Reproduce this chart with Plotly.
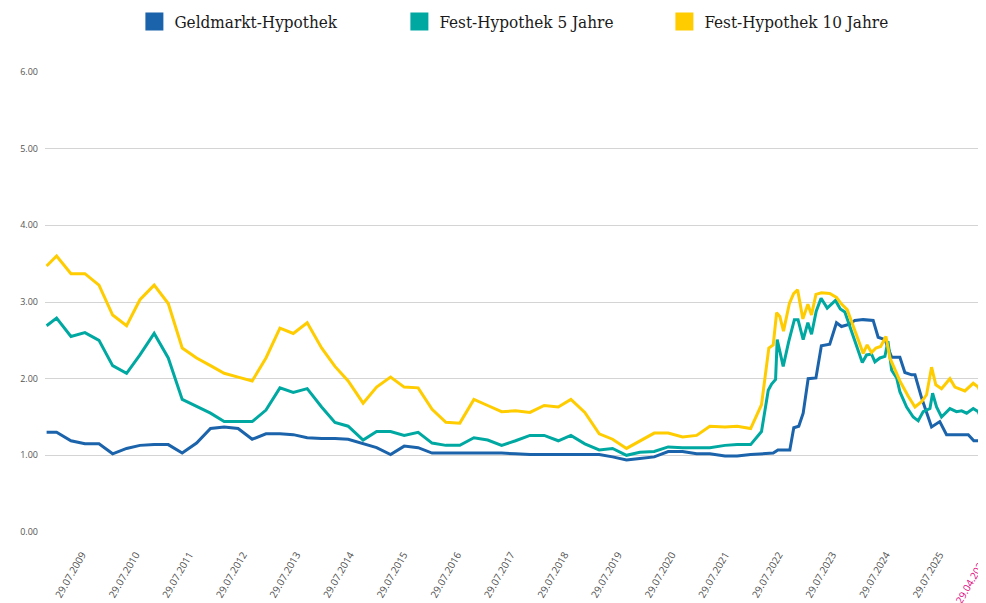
import plotly.graph_objects as go

# ---------------- data ----------------
series_names = ["Geldmarkt-Hypothek", "Fest-Hypothek 5 Jahre", "Fest-Hypothek 10 Jahre"]

dates_hist = [
    "2008-11-29", "2009-02-05", "2009-05-14", "2009-08-17", "2009-11-21",
    "2010-02-22", "2010-05-28", "2010-08-27", "2010-12-02", "2011-03-08",
    "2011-06-11", "2011-09-17", "2011-12-21", "2012-03-23", "2012-06-26",
    "2012-09-30", "2013-01-02", "2013-04-07", "2013-07-07", "2013-10-10",
    "2014-01-16", "2014-04-17", "2014-07-16", "2014-10-26", "2015-01-26",
    "2015-05-01", "2015-08-02", "2015-11-05", "2016-02-08", "2016-05-12",
    "2016-08-15", "2016-11-19", "2017-02-21", "2017-05-27", "2017-08-30",
    "2017-12-06", "2018-03-13", "2018-06-17", "2018-09-11", "2018-12-15",
    "2019-03-23", "2019-06-22", "2019-09-25", "2019-12-25", "2020-04-01",
    "2020-07-05", "2020-10-11", "2021-01-15", "2021-04-15", "2021-07-27",
    "2021-10-18", "2022-01-18",
]

geld_hist = [
    1.30, 1.30, 1.19, 1.15, 1.15, 1.02, 1.09, 1.13, 1.14, 1.14,
    1.03, 1.16, 1.35, 1.37, 1.35, 1.21, 1.28, 1.28, 1.27, 1.23,
    1.22, 1.22, 1.21, 1.15, 1.10, 1.01, 1.12, 1.10, 1.03, 1.03,
    1.03, 1.03, 1.03, 1.03, 1.02, 1.01, 1.01, 1.01, 1.01, 1.01,
    1.01, 0.98, 0.94, 0.96, 0.98, 1.05, 1.05, 1.02, 1.02, 0.99,
    0.99, 1.01,
]
fix5_hist = [
    2.69, 2.79, 2.55, 2.60, 2.50, 2.17, 2.07, 2.31, 2.59, 2.27,
    1.73, 1.64, 1.55, 1.44, 1.44, 1.44, 1.59, 1.88, 1.82, 1.87,
    1.63, 1.43, 1.38, 1.20, 1.31, 1.31, 1.26, 1.30, 1.16, 1.13,
    1.13, 1.23, 1.20, 1.13, 1.19, 1.26, 1.26, 1.19, 1.26, 1.15,
    1.07, 1.09, 1.00, 1.04, 1.05, 1.11, 1.10, 1.10, 1.10, 1.13,
    1.14, 1.14,
]
fix10_hist = [
    3.47, 3.60, 3.37, 3.37, 3.22, 2.83, 2.69, 3.03, 3.22, 2.98,
    2.40, 2.27, 2.17, 2.07, 2.02, 1.97, 2.27, 2.66, 2.59, 2.73,
    2.40, 2.16, 1.97, 1.68, 1.89, 2.02, 1.89, 1.88, 1.60, 1.43,
    1.42, 1.73, 1.65, 1.57, 1.58, 1.56, 1.65, 1.63, 1.73, 1.56,
    1.28, 1.21, 1.09, 1.19, 1.29, 1.29, 1.24, 1.26, 1.38, 1.37,
    1.38, 1.35,
]

geld_dates_recent = [
    "2022-04-02", "2022-06-21", "2022-07-23", "2022-10-12", "2022-11-08",
    "2022-12-12", "2023-01-11", "2023-02-14", "2023-04-08", "2023-05-15",
    "2023-07-11", "2023-08-26", "2023-09-29", "2023-11-24", "2023-12-29",
    "2024-02-24", "2024-05-02", "2024-06-05", "2024-07-21", "2024-09-05",
    "2024-10-31", "2024-12-04", "2025-01-19", "2025-02-11", "2025-03-28",
    "2025-06-04", "2025-07-30", "2025-09-14", "2026-02-09", "2026-03-19",
    "2026-06-09",
]
geld_recent = [
    1.02, 1.03, 1.07, 1.07, 1.36,
    1.38, 1.55, 2.00, 2.01, 2.43,
    2.45, 2.73, 2.68, 2.71, 2.76,
    2.77, 2.76, 2.54, 2.51, 2.28,
    2.28, 2.08, 2.05, 2.05, 1.75,
    1.37, 1.44, 1.27, 1.27, 1.19,
    1.19,
]

fix5_dates_recent = [
    "2022-04-02", "2022-05-18", "2022-06-10", "2022-07-07", "2022-07-18",
    "2022-08-28", "2022-10-04", "2022-11-12", "2022-12-07", "2023-01-11",
    "2023-02-12", "2023-03-09", "2023-04-10", "2023-05-13", "2023-06-24",
    "2023-08-19", "2023-09-21", "2023-10-22", "2023-12-17", "2024-02-18",
    "2024-03-18", "2024-04-21", "2024-05-14", "2024-06-17", "2024-07-21",
    "2024-08-11", "2024-09-05", "2024-10-09", "2024-10-31", "2024-12-16",
    "2025-01-30", "2025-03-05", "2025-04-08", "2025-05-24", "2025-06-11",
    "2025-07-08", "2025-08-11", "2025-10-07", "2025-11-21", "2025-12-26",
    "2026-01-29", "2026-03-15", "2026-04-18", "2026-05-22", "2026-06-09",
]
fix5_recent = [
    1.31, 1.85, 1.93, 1.99, 2.51,
    2.16, 2.48, 2.77, 2.77, 2.51,
    2.73, 2.58, 2.88, 3.05, 2.92,
    3.02, 2.91, 2.87, 2.55, 2.21,
    2.31, 2.32, 2.22, 2.27, 2.29,
    2.49, 2.11, 2.01, 1.83, 1.63,
    1.50, 1.45, 1.57, 1.61, 1.81,
    1.63, 1.50, 1.61, 1.57, 1.58,
    1.55, 1.61, 1.57, 1.42, 1.63,
]

fix10_dates_recent = [
    "2022-04-02", "2022-05-22", "2022-06-21", "2022-07-14", "2022-08-05",
    "2022-08-30", "2022-10-09", "2022-11-07", "2022-12-04", "2023-01-09",
    "2023-02-12", "2023-03-09", "2023-04-08", "2023-05-16", "2023-07-11",
    "2023-08-26", "2023-10-01", "2023-11-07", "2024-01-12", "2024-02-08",
    "2024-02-24", "2024-03-22", "2024-04-21", "2024-05-21", "2024-06-22",
    "2024-07-28", "2024-08-24", "2024-10-31", "2024-12-27", "2025-02-11",
    "2025-03-28", "2025-05-01", "2025-06-04", "2025-07-03", "2025-08-11",
    "2025-10-07", "2025-11-10", "2026-01-17", "2026-03-15", "2026-04-18",
    "2026-05-22", "2026-06-09",
]
fix10_recent = [
    1.66, 2.40, 2.44, 2.86, 2.81,
    2.62, 2.98, 3.11, 3.16, 2.78,
    2.97, 2.83, 3.10, 3.12, 3.11,
    3.06, 2.97, 2.90, 2.55, 2.40,
    2.33, 2.44, 2.34, 2.40, 2.42,
    2.55, 2.27, 1.97, 1.77, 1.63,
    1.70, 1.79, 2.15, 1.92, 1.87,
    2.00, 1.89, 1.84, 1.94, 1.89,
    1.73, 1.87,
]

tick_dates = [f"{y}-07-29" for y in range(2009, 2026)]
tick_labels = [f"29.07.{y}" for y in range(2009, 2026)]
last_label = "29.04.2026"
y_ticks = [0, 1, 2, 3, 4, 5, 6]

colors = ["#1b63aa", "#00a8a2", "#ffcc00"]
x_range = ["2008-11-18", "2026-06-10"]

# ---------------- figure ----------------
fig = go.Figure()

xs = [dates_hist + geld_dates_recent, dates_hist + fix5_dates_recent, dates_hist + fix10_dates_recent]
ys = [geld_hist + geld_recent, fix5_hist + fix5_recent, fix10_hist + fix10_recent]

for name, x, y, c in zip(series_names, xs, ys, colors):
    fig.add_trace(go.Scatter(
        x=x, y=y, mode="lines", name=name, showlegend=False,
        line=dict(color=c, width=3), hoverinfo="skip",
    ))

for name, c in zip(series_names, colors):
    fig.add_trace(go.Scatter(
        x=[None], y=[None], mode="markers", name=name, showlegend=True,
        marker=dict(symbol="square", size=16, color=c, line=dict(color=c, width=2)),
    ))

x_tick_font = dict(family="Open Sans, Noto Sans, sans-serif", size=10, color="#4d4d4d")
y_tick_font = dict(family="Open Sans, Noto Sans, sans-serif", size=9, color="#555555")

# page body has an 8px margin, so the figure is sized to fill the rest of the window
fig.update_layout(
    width=978, height=595,
    margin=dict(l=37, r=0, t=64, b=71),
    paper_bgcolor="white", plot_bgcolor="white",
    showlegend=True,
    legend=dict(
        orientation="h", x=0.095, xanchor="left",
        yref="container", y=0.9765, yanchor="middle",
        font=dict(family="DejaVu Serif Condensed, DejaVu Serif, serif", size=17, color="#1a1a1a"),
        entrywidth=220, entrywidthmode="pixels",
        bgcolor="rgba(0,0,0,0)",
    ),
    xaxis=dict(
        type="date", range=x_range,
        tickmode="array", tickvals=tick_dates, ticktext=tick_labels,
        tickangle=-60, tickfont=x_tick_font, ticklabelstandoff=14,
        showgrid=False, zeroline=False, showline=False, ticks="",
        fixedrange=True,
    ),
    yaxis=dict(
        range=[0, 6], tickmode="array", tickvals=y_ticks, tickformat=".2f",
        tickfont=y_tick_font, showgrid=True, gridcolor="#d4d4d4", gridwidth=1,
        zeroline=False, showline=False, ticks="", ticklabelstandoff=6,
        fixedrange=True,
    ),
    annotations=[dict(
        xref="paper", yref="paper", x=0.984, y=-0.104,
        text=last_label, showarrow=False, textangle=-60,
        xanchor="center", yanchor="middle",
        font=dict(family="Open Sans, Noto Sans, sans-serif", size=10, color="#e6007e"),
    )],
)

fig.write_html("out.html")
